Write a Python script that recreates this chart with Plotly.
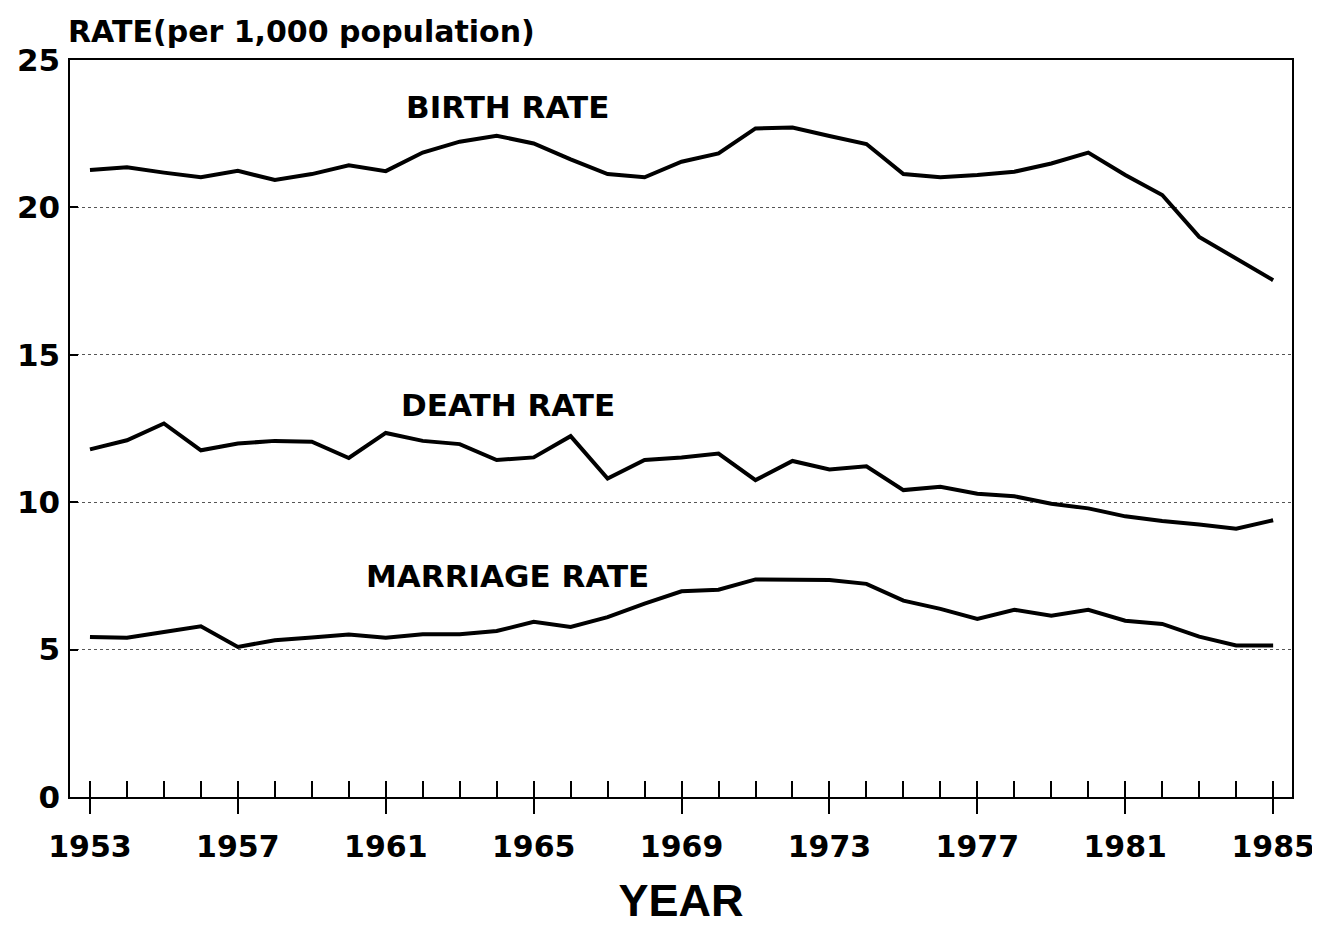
import plotly.graph_objects as go

years = list(range(1953, 1986))
birth_rate = [21.27, 21.36, 21.18, 21.02, 21.24, 20.93, 21.13, 21.43, 21.23, 21.86,
              22.23, 22.43, 22.17, 21.63, 21.13, 21.02, 21.55, 21.83, 22.68, 22.71,
              22.42, 22.15, 21.13, 21.02, 21.10, 21.21, 21.49, 21.86, 21.10, 20.42,
              19.00, 18.27, 17.53]
death_rate = [11.79, 12.10, 12.67, 11.76, 11.99, 12.08, 12.05, 11.50, 12.35, 12.08,
              11.97, 11.43, 11.52, 12.24, 10.80, 11.43, 11.52, 11.65, 10.75, 11.40,
              11.11, 11.22, 10.41, 10.52, 10.29, 10.20, 9.95, 9.79, 9.52, 9.36,
              9.24, 9.10, 9.39]
marriage_rate = [5.43, 5.40, 5.60, 5.79, 5.09, 5.32, 5.41, 5.51, 5.40, 5.52,
                 5.52, 5.63, 5.94, 5.77, 6.10, 6.56, 6.98, 7.03, 7.38, 7.38,
                 7.36, 7.23, 6.66, 6.38, 6.04, 6.35, 6.15, 6.35, 5.98, 5.87,
                 5.44, 5.14, 5.14]
series_names = ["BIRTH RATE", "DEATH RATE", "MARRIAGE RATE"]
label_x = [1964.3, 1964.3, 1964.3]
label_y = [23.4, 13.3, 7.5]
x_ticks = list(range(1953, 1986, 4))
y_ticks = [0, 5, 10, 15, 20, 25]

FONT = "DejaVu Sans, Verdana, sans-serif"
FONT2 = "Liberation Sans, Arial, Helvetica, sans-serif"

fig = go.Figure()
for vals in (birth_rate, death_rate, marriage_rate):
    fig.add_trace(go.Scatter(x=years, y=vals, mode="lines",
                             line=dict(color="black", width=4),
                             showlegend=False, hoverinfo="skip"))
# invisible trace to anchor the overlay axis used for crossing major ticks
fig.add_trace(go.Scatter(x=years, y=birth_rate, xaxis="x2", mode="lines",
                         line=dict(color="rgba(0,0,0,0)", width=0),
                         showlegend=False, hoverinfo="skip"))

for name, lx, ly in zip(series_names, label_x, label_y):
    fig.add_annotation(x=lx, y=ly, text=name, showarrow=False,
                       font=dict(family=FONT, size=31, color="black", weight="bold"))

fig.add_annotation(xref="paper", yref="paper", x=0, y=1, xanchor="left", yanchor="bottom",
                   xshift=-4, yshift=9, text="RATE(per 1,000 population)", showarrow=False,
                   font=dict(family=FONT, size=30, color="black", weight="bold"))

xrange = [1952.46, 1985.51]
fig.update_layout(
    width=1320, height=926,
    margin=dict(l=62, r=36, t=52, b=137, autoexpand=False),
    paper_bgcolor="white", plot_bgcolor="white",
    xaxis=dict(range=xrange, tickvals=x_ticks, ticks="outside", ticklen=15, tickwidth=1.5,
               tickcolor="black", showline=True, linecolor="black", linewidth=1.5,
               mirror=True, showgrid=False, zeroline=False, ticklabelstandoff=7,
               tickfont=dict(family=FONT, size=30, color="black", weight="bold"),
               minor=dict(dtick=1, tick0=1953, ticks="inside", ticklen=16, tickwidth=1.5,
                          tickcolor="black", showgrid=False),
               title=dict(text="YEAR", standoff=22,
                          font=dict(family=FONT2, size=45, color="black", weight="bold"))),
    xaxis2=dict(range=xrange, overlaying="x", anchor="y", side="bottom",
                tickvals=x_ticks, ticks="inside", ticklen=15, tickwidth=1.5,
                tickcolor="black", showticklabels=False, showline=False,
                showgrid=False, zeroline=False),
    yaxis=dict(range=[0, 25], tickvals=y_ticks, ticks="inside", ticklen=8, tickwidth=2,
               tickcolor="black", showline=True, linecolor="black", linewidth=1.5,
               mirror=True, showgrid=True, gridcolor="#555", griddash="dot", gridwidth=1,
               zeroline=False, ticklabelstandoff=2,
               tickfont=dict(family=FONT, size=31, color="black", weight="bold")),
)

fig.write_html("out.html")
